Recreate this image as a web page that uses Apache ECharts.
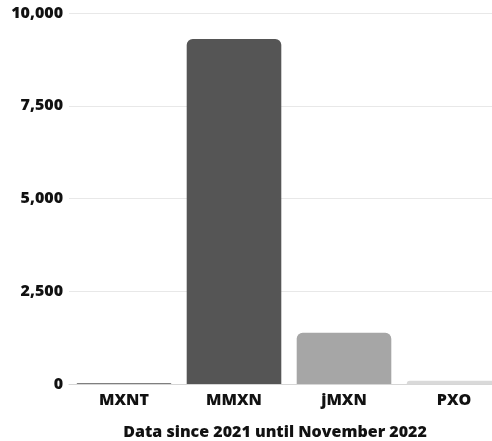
<!DOCTYPE html>
<html><head><meta charset="utf-8">
<script src="https://cdn.jsdelivr.net/npm/echarts@6/dist/echarts.min.js"></script>
<style>html,body{margin:0;padding:0;background:#fff}#c{width:492px;height:441px}</style>
</head><body><div id="c"></div>
<script>
const categories = ['MXNT', 'MMXN', 'jMXN', 'PXO'];
const values = [20, 9300, 1380, 90];
const barColors = ['#555555', '#555555', '#a6a6a6', '#d9d9d9'];
const yTicks = [0, 2500, 5000, 7500, 10000];
const caption = 'Data since 2021 until November 2022';

const font = '"Open Sans", "DejaVu Sans", sans-serif';
const chart = echarts.init(document.getElementById('c'), null, {renderer: 'canvas'});
chart.setOption({
  animation: false,
  title: {
    text: caption, left: 270, top: 419, textAlign: 'center',
    textStyle: {fontFamily: font, fontWeight: 800, fontSize: 16, color: '#111'}
  },
  grid: {left: 69, width: 440, top: 13, height: 371, outerBoundsMode: 'none', containLabel: false},
  xAxis: {
    type: 'category', data: categories,
    axisTick: {show: false},
    axisLine: {lineStyle: {color: '#d6d6d6', width: 1}},
    axisLabel: {fontFamily: font, fontWeight: 800, fontSize: 16, color: '#111', margin: 8}
  },
  yAxis: {
    type: 'value', min: yTicks[0], max: yTicks[yTicks.length - 1], interval: 2500,
    axisLabel: {fontFamily: font, fontWeight: 800, fontSize: 16, color: '#111', margin: 6,
      formatter: v => v.toLocaleString('en-US')},
    splitLine: {lineStyle: {color: '#e8e8e8'}},
    axisLine: {show: false}, axisTick: {show: false}
  },
  series: [{
    type: 'bar', barCategoryGap: '14%',
    data: values.map((v, i) => ({value: v, itemStyle: {color: barColors[i], borderRadius: [6, 6, 0, 0]}}))
  }]
});
</script></body></html>
